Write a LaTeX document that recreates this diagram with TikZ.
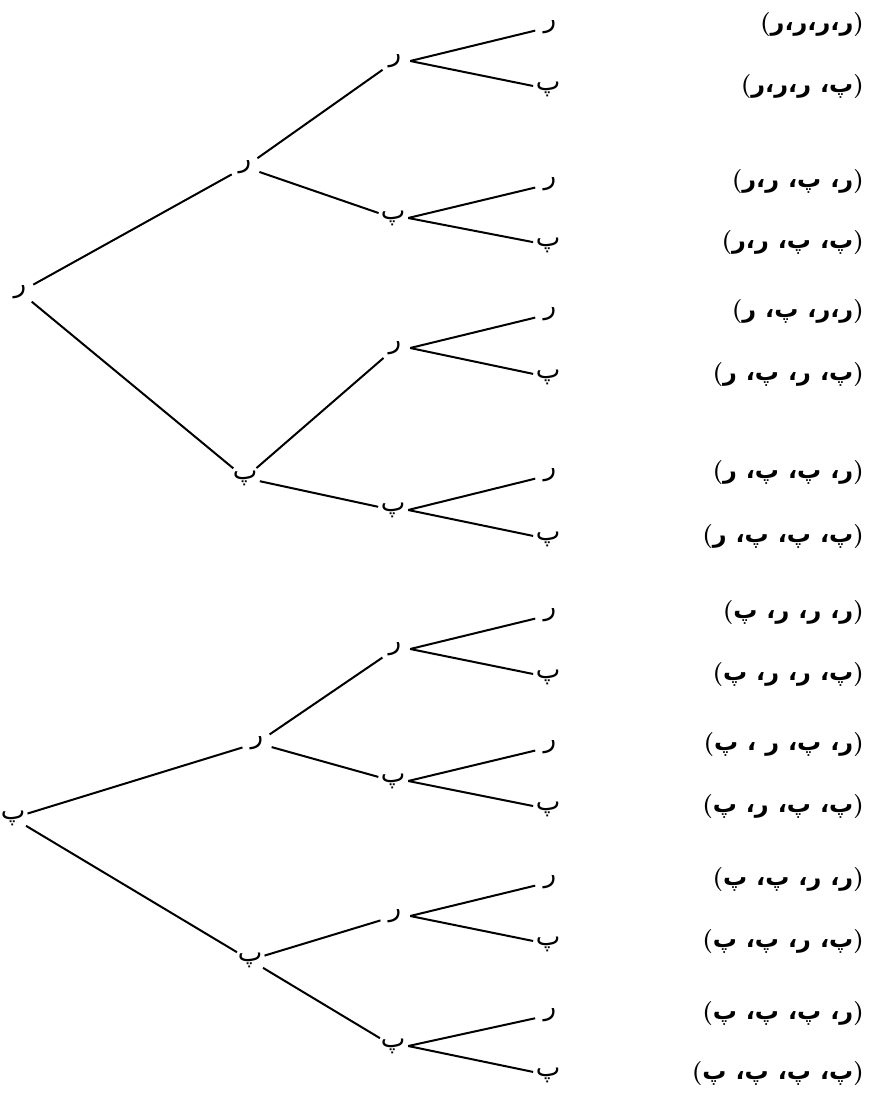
\documentclass[tikz,border=0pt]{standalone}
\usepackage{fontspec}
\newfontfamily\arabicfont[Script=Arabic]{DejaVu Sans}
\newcommand\Ra{\mbox{\arabicfont ر}}
\newcommand\Pe{\mbox{\arabicfont پ}}
\newcommand\Cm{\mbox{\arabicfont ،}}
\newcommand\Sc{\ \Cm}
\begin{document}
\begin{tikzpicture}[x=1pt,y=-1pt,
  lt/.style={circle,minimum size=30pt,inner sep=0pt,font=\fontsize{26}{30}\selectfont\arabicfont},
  lbl/.style={anchor=east,inner sep=0pt,font=\fontsize{24}{30}\selectfont\bfseries},
  edge/.style={line width=2pt}]
\useasboundingbox (0,0) rectangle (870,1093);
% roots
\node[lt] (r) at (20,292) {ر};
\node[lt] (p) at (13,818) {پ};
% level 1
\node[lt] (a) at (245,167) {ر};
\node[lt] (b) at (245,478) {پ};
\node[lt] (c) at (257,743) {ر};
\node[lt] (d) at (250,960) {پ};
% level 2
\node[lt] (aa) at (395,61) {ر};
\node[lt] (ab) at (393,218) {پ};
\node[lt] (ba) at (395,348) {ر};
\node[lt] (bb) at (393,510) {پ};
\node[lt] (ca) at (395,649) {ر};
\node[lt] (cb) at (393,781) {پ};
\node[lt] (da) at (395,916) {ر};
\node[lt] (db) at (393,1046) {پ};
% leaves
\node[lt] (l1) at (550,27) {ر};
\node[lt] (l2) at (548,89) {پ};
\node[lt] (l3) at (550,184) {ر};
\node[lt] (l4) at (548,245) {پ};
\node[lt] (l5) at (550,314) {ر};
\node[lt] (l6) at (548,377) {پ};
\node[lt] (l7) at (550,475) {ر};
\node[lt] (l8) at (548,539) {پ};
\node[lt] (l9) at (550,615) {ر};
\node[lt] (l10) at (548,677) {پ};
\node[lt] (l11) at (550,747) {ر};
\node[lt] (l12) at (548,809) {پ};
\node[lt] (l13) at (550,882) {ر};
\node[lt] (l14) at (548,944) {پ};
\node[lt] (l15) at (550,1015) {ر};
\node[lt] (l16) at (548,1075) {پ};
% edges
\draw[edge] (r) -- (a); \draw[edge] (r) -- (b);
\draw[edge] (p) -- (c); \draw[edge] (p) -- (d);
\draw[edge] (a) -- (aa); \draw[edge] (a) -- (ab);
\draw[edge] (b) -- (ba); \draw[edge] (b) -- (bb);
\draw[edge] (c) -- (ca); \draw[edge] (c) -- (cb);
\draw[edge] (d) -- (da); \draw[edge] (d) -- (db);
\draw[edge] (aa.east) -- (l1); \draw[edge] (aa.east) -- (l2);
\draw[edge] (ab.east) -- (l3); \draw[edge] (ab.east) -- (l4);
\draw[edge] (ba.east) -- (l5); \draw[edge] (ba.east) -- (l6);
\draw[edge] (bb.east) -- (l7); \draw[edge] (bb.east) -- (l8);
\draw[edge] (ca.east) -- (l9); \draw[edge] (ca.east) -- (l10);
\draw[edge] (cb.east) -- (l11); \draw[edge] (cb.east) -- (l12);
\draw[edge] (da.east) -- (l13); \draw[edge] (da.east) -- (l14);
\draw[edge] (db.east) -- (l15); \draw[edge] (db.east) -- (l16);
% labels (written root first; XeTeX sets the run right to left)
\node[lbl] (t1) at (864,25) {(\Ra\Cm\Ra\Cm\Ra\Cm\Ra)};
\node[lbl] (t2) at (864,87) {(\Ra\Cm\Ra\Cm\Ra\Sc\Pe)};
\node[lbl] (t3) at (864,182) {(\Ra\Cm\Ra\Sc\Pe\Sc\Ra)};
\node[lbl] (t4) at (864,243) {(\Ra\Cm\Ra\Sc\Pe\Sc\Pe)};
\node[lbl] (t5) at (864,312) {(\Ra\Sc\Pe\Sc\Ra\Cm\Ra)};
\node[lbl] (t6) at (864,375) {(\Ra\Sc\Pe\Sc\Ra\Sc\Pe)};
\node[lbl] (t7) at (864,473) {(\Ra\Sc\Pe\Sc\Pe\Sc\Ra)};
\node[lbl] (t8) at (864,537) {(\Ra\Sc\Pe\Sc\Pe\Sc\Pe)};
\node[lbl] (t9) at (864,613) {(\Pe\Sc\Ra\Sc\Ra\Sc\Ra)};
\node[lbl] (t10) at (864,675) {(\Pe\Sc\Ra\Sc\Ra\Sc\Pe)};
\node[lbl] (t11) at (864,745) {(\Pe\Sc\ \Ra\Sc\Pe\Sc\Ra)};
\node[lbl] (t12) at (864,807) {(\Pe\Sc\Ra\Sc\Pe\Sc\Pe)};
\node[lbl] (t13) at (864,880) {(\Pe\Sc\Pe\Sc\Ra\Sc\Ra)};
\node[lbl] (t14) at (864,942) {(\Pe\Sc\Pe\Sc\Ra\Sc\Pe)};
\node[lbl] (t15) at (864,1013) {(\Pe\Sc\Pe\Sc\Pe\Sc\Ra)};
\node[lbl] (t16) at (864,1073) {(\Pe\Sc\Pe\Sc\Pe\Sc\Pe)};
\end{tikzpicture}
\end{document}
